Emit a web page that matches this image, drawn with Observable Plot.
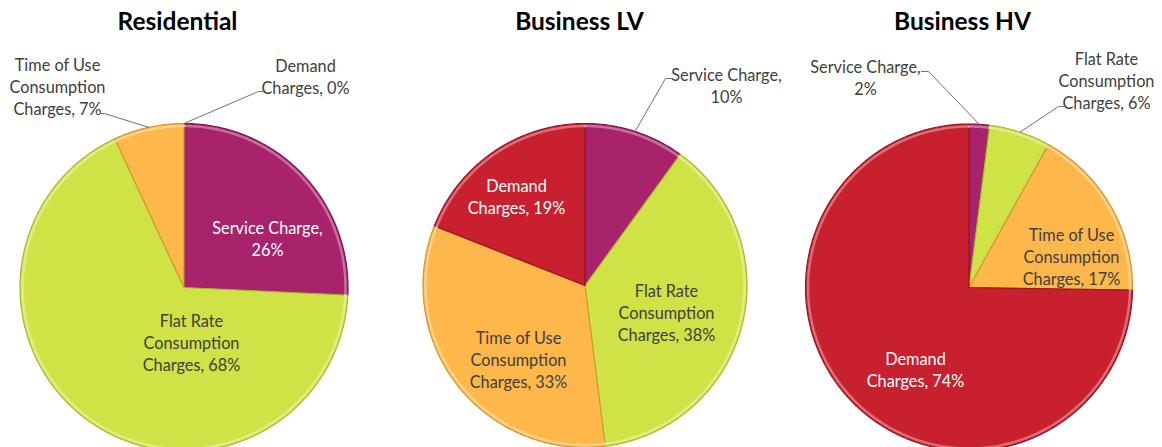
<!DOCTYPE html>
<html>
<head>
<meta charset="utf-8">
<script src="https://cdn.jsdelivr.net/npm/d3@7"></script>
<script src="https://cdn.jsdelivr.net/npm/@observablehq/plot@0.6"></script>
<style>
  html, body { margin: 0; padding: 0; background: #fff; }
  #chart svg { display: block; }
</style>
</head>
<body>
<div id="chart"></div>
<script>
// ---- data ----
const charts = ["Residential", "Business LV", "Business HV"];
const categories = ["Service Charge", "Flat Rate Consumption Charges", "Time of Use Consumption Charges", "Demand Charges"];
const labelPrefixes = ["Service Charge,\n", "Flat Rate\nConsumption\nCharges, ", "Time of Use\nConsumption\nCharges, ", "Demand\nCharges, "];
const residential = [26, 68, 7, 0];
const businessLV = [10, 38, 33, 19];
const businessHV = [2, 6, 17, 74];

// ---- styles / layout ----
const colors = ["#A8226C", "#CFE246", "#FDB74A", "#C8202F"];
const edgeColors = ["#7E1650", "#A9BB2C", "#D8962E", "#99141F"];
const series = [residential, businessLV, businessHV];
const pies = [
  {cx: 183.5, cy: 287, r: 164, titleX: 177},
  {cx: 584.5, cy: 285, r: 162, titleX: 579},
  {cx: 968.5, cy: 287, r: 163.5, titleX: 962}
];
// label layout per chart, per category
const labelLayout = [
  [
    {x: 267, y: 237.5, fill: "#fff"},
    {x: 191, y: 341, fill: "#404040"},
    {x: 57, y: 85, fill: "#404040", leader: [[101, 113], [104, 113]]},
    {x: 305, y: 75.5, fill: "#404040", leader: [[262, 91], [258, 91]]}
  ],
  [
    {x: 726, y: 84, fill: "#404040", leader: [[672, 78], [665, 78]]},
    {x: 666, y: 311.5, fill: "#404040"},
    {x: 518, y: 358.5, fill: "#404040"},
    {x: 516, y: 195, fill: "#fff"}
  ],
  [
    {x: 865, y: 76, fill: "#404040", leader: [[921, 71], [928, 71]]},
    {x: 1106, y: 79, fill: "#404040", leader: [[1063, 106], [1058, 106]]},
    {x: 1071, y: 255.5, fill: "#404040"},
    {x: 915, y: 368, fill: "#fff"}
  ]
];

function pt(p, a, rr) {
  return {x: p.cx + rr * Math.sin(a), y: p.cy - rr * Math.cos(a)};
}

const sliceMarks = [];
const edgeMarks = [];
const labels = [];
const leaders = [];

series.forEach((values, ci) => {
  const p = pies[ci];
  const total = d3.sum(values);
  let acc = 0;
  values.forEach((v, si) => {
    const a0 = acc / total * 2 * Math.PI;
    acc += v;
    const a1 = acc / total * 2 * Math.PI;
    const mid = (a0 + a1) / 2;
    if (v > 0) {
      const n = Math.max(2, Math.ceil((a1 - a0) / (Math.PI / 360)));
      const pts = [{x: p.cx, y: p.cy}];
      for (let k = 0; k <= n; k++) pts.push(pt(p, a0 + (a1 - a0) * k / n, p.r));
      sliceMarks.push(Plot.line(pts, {x: "x", y: "y", curve: "linear-closed", fill: colors[si], stroke: edgeColors[si], strokeWidth: 1.2, strokeLinejoin: "round"}));
      const hi = [];
      for (let k = 0; k <= n; k++) hi.push(pt(p, a0 + (a1 - a0) * k / n, p.r - 2.5));
      edgeMarks.push(Plot.line(hi, {x: "x", y: "y", stroke: "#ffffff", strokeOpacity: 0.35, strokeWidth: 2.5}));
    }
    const L = labelLayout[ci][si];
    labels.push({x: L.x, y: L.y, text: labelPrefixes[si] + v + "%", fill: L.fill});
    if (L.leader) {
      const e = pt(p, mid, p.r);
      leaders.push([...L.leader.map(([x, y]) => ({x, y})), e]);
    }
  });
});

const titles = charts.map((t, i) => ({x: pies[i].titleX, y: 22, text: t}));

const chart = Plot.plot({
  width: 1162,
  height: 447,
  margin: 0,
  x: {domain: [0, 1162], range: [0, 1162], axis: null},
  y: {domain: [0, 447], range: [0, 447], axis: null},
  style: {fontFamily: "Lato, 'Open Sans', sans-serif", background: "#fff", overflow: "hidden"},
  marks: [
    ...sliceMarks,
    ...edgeMarks,
    ...leaders.map(l => Plot.line(l, {x: "x", y: "y", stroke: "#707070", strokeWidth: 1})),
    Plot.text(labels, {x: "x", y: "y", text: "text", fill: "fill", fontSize: 16.3, lineHeight: 1.35, lineAnchor: "middle", textAnchor: "middle"}),
    Plot.text(titles, {x: "x", y: "y", text: "text", fill: "#000", fontSize: 24.5, fontWeight: "bold", lineAnchor: "middle", textAnchor: "middle"})
  ]
});
document.getElementById("chart").appendChild(chart);
</script>
</body>
</html>
